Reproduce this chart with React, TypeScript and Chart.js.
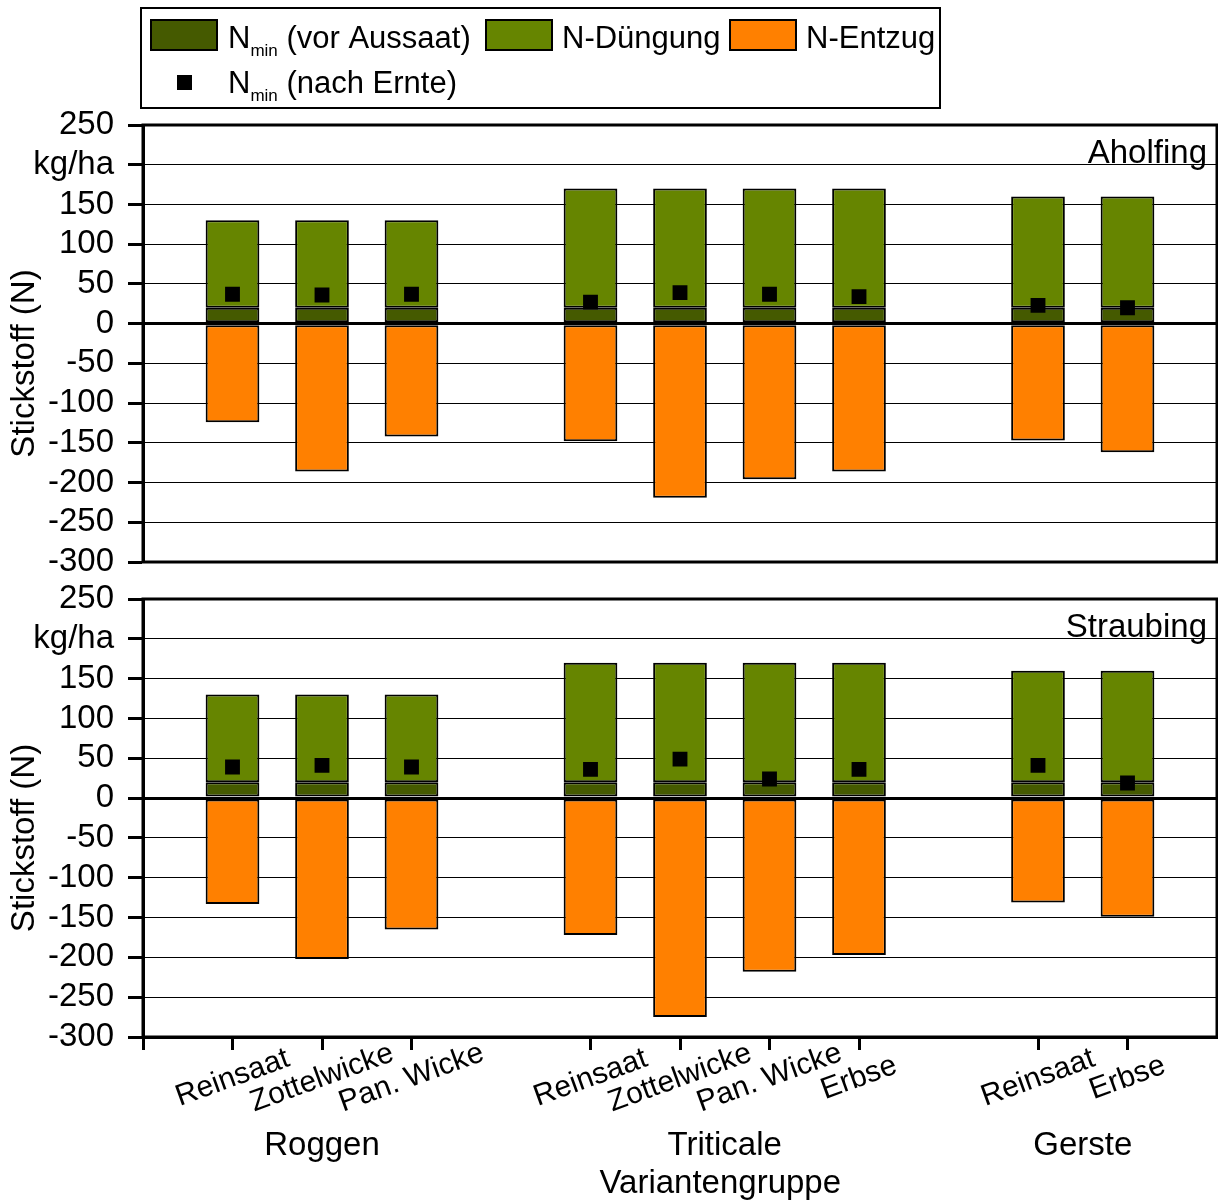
import React, { useEffect, useRef } from "react";
import { Chart, registerables } from "chart.js";

Chart.register(...registerables);

const FONT = '"Liberation Sans", Arial, Helvetica, sans-serif';

// ---- data ----
const categories = ["", "Reinsaat", "Zottelwicke", "Pan. Wicke", "", "Reinsaat", "Zottelwicke", "Pan. Wicke", "Erbse", "", "Reinsaat", "Erbse", ""];
const groupNames = ["Roggen", "Triticale", "Gerste"];
const groupFirst = [1, 5, 10];
const groupLast = [3, 8, 11];
const nminVorAussaat = [null, 20, 20, 20, null, 20, 20, 20, 20, null, 20, 20, null];
const nDuengung = [null, 110, 110, 110, null, 150, 150, 150, 150, null, 140, 140, null];
const entzugAholfing = [null, -124, -186, -142, null, -148, -219, -196, -186, null, -147, -162, null];
const nachErnteAholfing = [null, 37, 36, 37, null, 27, 39, 37, 34, null, 23, 20, null];
const entzugStraubing = [null, -133, -202, -165, null, -172, -275, -218, -197, null, -131, -149, null];
const nachErnteStraubing = [null, 39, 41, 39, null, 36, 49, 24, 36, null, 41, 19, null];
const yMin = -300;
const yMax = 250;
const yStep = 50;
const unitTickValue = 200;
const unitLabel = "kg/ha";
const yTitle = "Stickstoff (N)";
const xTitle = "Variantengruppe";
const siteNames = ["Aholfing", "Straubing"];

const COL_NMIN = "#455a00";
const COL_DUENG = "#668500";
const COL_ENTZUG = "#ff8000";

function drawNmin(ctx: CanvasRenderingContext2D, x: number, y: number, rest: string) {
  ctx.textAlign = "left";
  ctx.textBaseline = "alphabetic";
  ctx.font = `31px ${FONT}`;
  ctx.fillText("N", x, y);
  let cx = x + ctx.measureText("N").width;
  ctx.font = `17px ${FONT}`;
  ctx.fillText("min", cx, y + 8);
  cx += ctx.measureText("min").width;
  ctx.font = `31px ${FONT}`;
  ctx.fillText(" " + rest, cx, y);
}

const legendPlugin = {
  id: "customLegend",
  afterDraw(chart: any) {
    const ctx = chart.ctx as CanvasRenderingContext2D;
    ctx.save();
    ctx.strokeStyle = "#000";
    ctx.lineWidth = 2;
    ctx.strokeRect(141, 8, 799, 100);
    const ds = chart.data.datasets;
    const sw = (x: number, color: string) => {
      ctx.fillStyle = color;
      ctx.fillRect(x, 20, 66, 30);
      ctx.lineWidth = 2;
      ctx.strokeStyle = "#000";
      ctx.strokeRect(x, 20, 66, 30);
    };
    sw(151, ds[1].backgroundColor);
    ctx.fillStyle = "#000";
    drawNmin(ctx, 228, 48, "(vor Aussaat)");
    sw(486, ds[2].backgroundColor);
    ctx.fillStyle = "#000";
    ctx.font = `31px ${FONT}`;
    ctx.textAlign = "left";
    ctx.fillText(ds[2].label, 562, 48);
    sw(730, ds[3].backgroundColor);
    ctx.fillStyle = "#000";
    ctx.fillText(ds[3].label, 806, 48);
    ctx.fillRect(177, 75, 15, 15);
    drawNmin(ctx, 228, 93, "(nach Ernte)");
    ctx.restore();
  },
};

function frameAndTextPlugin(site: string, isBottom: boolean) {
  return {
    id: "frameText" + site,
    afterDraw(chart: any) {
      const ctx = chart.ctx as CanvasRenderingContext2D;
      const a = chart.chartArea;
      ctx.save();
      ctx.strokeStyle = "#000";
      ctx.lineWidth = 3;
      ctx.strokeRect(a.left, a.top, a.right - a.left, a.bottom - a.top);
      // site name
      ctx.fillStyle = "#000";
      ctx.font = `33px ${FONT}`;
      ctx.textAlign = "right";
      ctx.textBaseline = "alphabetic";
      ctx.fillText(site, a.right - 10, a.top + 38);
      // y title
      ctx.save();
      ctx.translate(25, (a.top + a.bottom) / 2 + 20);
      ctx.rotate(-Math.PI / 2);
      ctx.textAlign = "center";
      ctx.textBaseline = "middle";
      ctx.font = `33px ${FONT}`;
      ctx.fillText(yTitle, 0, 0);
      ctx.restore();
      if (isBottom) {
        const xs = chart.scales.x;
        ctx.font = `30px ${FONT}`;
        ctx.textAlign = "center";
        ctx.textBaseline = "middle";
        categories.forEach((lab, i) => {
          if (!lab) return;
          const px = xs.getPixelForValue(i);
          ctx.save();
          ctx.translate(px, a.bottom + 41);
          ctx.rotate((-20 * Math.PI) / 180);
          ctx.fillText(lab, 0, 0);
          ctx.restore();
        });
        ctx.font = `33px ${FONT}`;
        ctx.textBaseline = "alphabetic";
        groupNames.forEach((g, i) => {
          const px = xs.getPixelForValue((groupFirst[i] + groupLast[i]) / 2);
          ctx.fillText(g, px, a.bottom + 118);
        });
        ctx.fillText(xTitle, xs.getPixelForValue(6.45), a.bottom + 156);
      }
      ctx.restore();
    },
  };
}

function makeConfig(entzug: (number | null)[], nachErnte: (number | null)[], site: string, isBottom: boolean): any {
  const barBase = { borderColor: "#000", borderWidth: 2, borderSkipped: false, stack: "n", barPercentage: 0.6, categoryPercentage: 1 };
  return {
    type: "bar",
    data: {
      labels: categories,
      datasets: [
        {
          type: "line",
          label: "N_min (nach Ernte)",
          data: nachErnte,
          showLine: false,
          pointStyle: "rect",
          pointRadius: 10.5,
          pointHoverRadius: 10.5,
          pointBackgroundColor: "#000",
          pointBorderWidth: 0,
          borderWidth: 0,
          stack: "marker",
          order: -1,
        },
        { ...barBase, label: "N_min (vor Aussaat)", data: nminVorAussaat, backgroundColor: COL_NMIN },
        { ...barBase, label: "N-Düngung", data: nDuengung, backgroundColor: COL_DUENG },
        { ...barBase, label: "N-Entzug", data: entzug, backgroundColor: COL_ENTZUG },
      ],
    },
    options: {
      animation: false,
      responsive: false,
      events: [],
      layout: {
        autoPadding: false,
        padding: isBottom ? { left: 0, right: 1, top: 39, bottom: 0 } : { left: 0, right: 1, top: 125, bottom: 38 },
      },
      plugins: { legend: { display: false }, tooltip: { enabled: false } },
      scales: {
        x: {
          type: "category",
          stacked: true,
          offset: false,
          display: isBottom,
          grid: {
            offset: false,
            drawOnChartArea: false,
            drawTicks: true,
            tickLength: 13,
            tickWidth: 3,
            tickColor: (c: any) => (c.index === 0 || categories[c.index] ? "#000" : "rgba(0,0,0,0)"),
          },
          border: { display: true, color: "#000", width: 3 },
          ticks: { display: false, autoSkip: false },
          afterFit: (s: any) => {
            if (isBottom) s.height = 164;
          },
        },
        y: {
          type: "linear",
          stacked: true,
          min: yMin,
          max: yMax,
          ticks: {
            stepSize: yStep,
            autoSkip: false,
            color: "#000",
            padding: 14,
            font: { family: FONT, size: 33 },
            callback: (v: any) => (v === unitTickValue ? unitLabel : String(v)),
          },
          grid: {
            color: "#000",
            lineWidth: (c: any) => (c.tick && c.tick.value === 0 ? 3 : 1),
            tickLength: 15,
            tickWidth: 3,
            tickColor: "#000",
          },
          border: { display: true, color: "#000", width: 3 },
          afterFit: (s: any) => {
            s.width = 143;
          },
        },
      },
    },
    plugins: isBottom ? [frameAndTextPlugin(site, true)] : [frameAndTextPlugin(site, false), legendPlugin],
  };
}

export default function App() {
  const topRef = useRef<HTMLCanvasElement>(null);
  const botRef = useRef<HTMLCanvasElement>(null);
  useEffect(() => {
    const c1 = new Chart(topRef.current as HTMLCanvasElement, makeConfig(entzugAholfing, nachErnteAholfing, siteNames[0], false));
    const c2 = new Chart(botRef.current as HTMLCanvasElement, makeConfig(entzugStraubing, nachErnteStraubing, siteNames[1], true));
    return () => {
      c1.destroy();
      c2.destroy();
    };
  }, []);
  return (
    <div style={{ position: "absolute", left: 0, top: 0, width: 1218, height: 1201, background: "#fff" }}>
      <canvas ref={topRef} width={1218} height={600} style={{ position: "absolute", left: 0, top: 0, width: 1218, height: 600 }} />
      <canvas ref={botRef} width={1218} height={641} style={{ position: "absolute", left: 0, top: 560, width: 1218, height: 641 }} />
    </div>
  );
}
